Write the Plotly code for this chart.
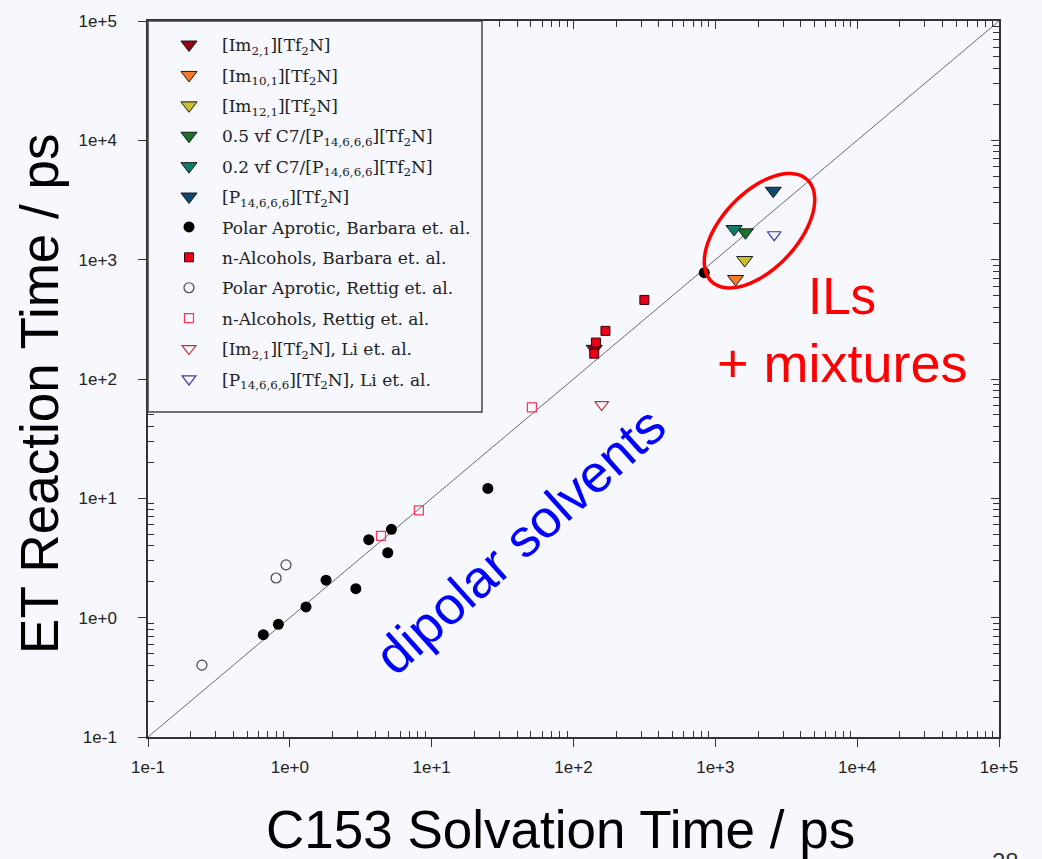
import numpy as np
import plotly.graph_objects as go

# ---- data (ps) ----
im21_x, im21_y = [140], [179]
im101_x, im101_y = [1390], [689]
im121_x, im121_y = [1611], [993]
vf05_x, vf05_y = [1630], [1695]
vf02_x, vf02_y = [1355], [1807]
p14_x, p14_y = [2560], [3780]

aprotic_barbara_x = [0.65, 0.83, 1.30, 1.80, 2.92, 3.6, 4.9, 5.2, 24.9, 836]
aprotic_barbara_y = [0.72, 0.88, 1.23, 2.06, 1.75, 4.5, 3.5, 5.5, 12.1, 778]

alcohol_barbara_x = [316, 168, 144, 140]
alcohol_barbara_y = [460, 253, 202, 163]

aprotic_rettig_x = [0.24, 0.80, 0.94]
aprotic_rettig_y = [0.40, 2.15, 2.77]

alcohol_rettig_x = [4.39, 8.13, 50.9]
alcohol_rettig_y = [4.84, 7.94, 57.8]

im21_li_x, im21_li_y = [158], [61]
p14_li_x, p14_li_y = [2600], [1618]

diag = [0.1, 1e5]

major_vals = [10.0 ** e for e in range(-1, 6)]
major_text = ["1e-1", "1e+0", "1e+1", "1e+2", "1e+3", "1e+4", "1e+5"]
minor_vals = [m * 10.0 ** e for e in range(-1, 5) for m in range(2, 10)]

# ---- layout geometry (pixels) ----
W, H = 1042, 859
L, R, T, B = 148, 999, 19, 737
PW, PH = R - L, B - T


def px(x):
    return (x - L) / PW


def py(y):
    return (B - y) / PH


BG = "#F7F8FE"
AX = "#333333"
OUT = "#1a1a1a"

fig = go.Figure()

fig.add_trace(go.Scatter(x=diag, y=diag, mode="lines",
                         line=dict(color="#6a6a6a", width=1),
                         showlegend=False, hoverinfo="skip"))

group_id = [0]


def add(name, x, y, marker):
    group_id[0] += 1
    fig.add_trace(go.Scatter(x=x, y=y, mode="markers", name=name,
                             legendgroup=f"g{group_id[0]}", marker=marker))


def tri(name, x, y, color):
    add(name, x, y, dict(symbol="triangle-down", size=14, color=color,
                         line=dict(color=OUT, width=1)))


tri("[Im<sub>2,1</sub>][Tf<sub>2</sub>N]", im21_x, im21_y, "#8E0A16")
tri("[Im<sub>10,1</sub>][Tf<sub>2</sub>N]", im101_x, im101_y, "#F47A2C")
tri("[Im<sub>12,1</sub>][Tf<sub>2</sub>N]", im121_x, im121_y, "#C9BE30")
tri("0.5 vf C7/[P<sub>14,6,6,6</sub>][Tf<sub>2</sub>N]", vf05_x, vf05_y, "#18722A")
tri("0.2 vf C7/[P<sub>14,6,6,6</sub>][Tf<sub>2</sub>N]", vf02_x, vf02_y, "#127C6C")
tri("[P<sub>14,6,6,6</sub>][Tf<sub>2</sub>N]", p14_x, p14_y, "#0D4A6B")

add("Polar Aprotic, Barbara et. al.", aprotic_barbara_x, aprotic_barbara_y,
    dict(symbol="circle", size=11, color="#000000"))
add("n-Alcohols, Barbara et. al.", alcohol_barbara_x, alcohol_barbara_y,
    dict(symbol="square", size=9, color="#E8001C",
         line=dict(color="#3a0000", width=1)))
add("Polar Aprotic, Rettig et. al.", aprotic_rettig_x, aprotic_rettig_y,
    dict(symbol="circle-open", size=10, color="#444444", line=dict(width=1.2)))
add("n-Alcohols, Rettig et. al.", alcohol_rettig_x, alcohol_rettig_y,
    dict(symbol="square-open", size=9, color="#FF3355", line=dict(width=1.2)))
add("[Im<sub>2,1</sub>][Tf<sub>2</sub>N], Li et. al.", im21_li_x, im21_li_y,
    dict(symbol="triangle-down-open", size=12, color="#C0303A",
         line=dict(width=1.2)))
add("[P<sub>14,6,6,6</sub>][Tf<sub>2</sub>N], Li et. al.", p14_li_x, p14_li_y,
    dict(symbol="triangle-down-open", size=12, color="#3A3AA8",
         line=dict(width=1.2)))

# invisible trace so the top/right frame axes are drawn
fig.add_trace(go.Scatter(x=diag, y=diag, xaxis="x2", yaxis="y2",
                         mode="markers", marker=dict(opacity=0),
                         showlegend=False, hoverinfo="skip"))

axis_common = dict(type="log", range=[-1, 5], showgrid=False, zeroline=False,
                   showline=True, linecolor=AX, linewidth=1.5)
minor_in = dict(tickmode="array", tickvals=minor_vals, ticks="inside",
                ticklen=6, tickcolor=AX, tickwidth=1)
tick_font = dict(family="Liberation Sans", size=17, color="#222")

fig.update_layout(
    width=W, height=H,
    margin=dict(l=L, r=W - R, t=T, b=H - B),
    paper_bgcolor=BG, plot_bgcolor=BG,
    xaxis=dict(**axis_common, tickmode="array", tickvals=major_vals,
               ticktext=major_text, ticks="outside", ticklen=8,
               tickcolor=AX, tickwidth=1.2, ticklabelstandoff=6,
               tickfont=tick_font, minor=minor_in),
    yaxis=dict(**axis_common, tickmode="array", tickvals=major_vals,
               ticktext=major_text, ticks="outside", ticklen=8,
               tickcolor=AX, tickwidth=1.2, ticklabelstandoff=18,
               tickfont=tick_font, minor=minor_in),
    xaxis2=dict(**axis_common, overlaying="x", side="top",
                showticklabels=False, tickmode="array", tickvals=major_vals,
                ticks="inside", ticklen=8, tickcolor=AX, minor=minor_in),
    yaxis2=dict(**axis_common, overlaying="y", side="right",
                showticklabels=False, tickmode="array", tickvals=major_vals,
                ticks="inside", ticklen=8, tickcolor=AX, minor=minor_in),
    legend=dict(x=px(156), y=py(25), xanchor="left", yanchor="top",
                bgcolor="rgba(0,0,0,0)", borderwidth=0,
                font=dict(family="DejaVu Serif", size=17, color="#222"),
                itemwidth=56, tracegroupgap=5.3, traceorder="grouped"),
    showlegend=True,
)

# legend frame
fig.add_shape(type="rect", xref="paper", yref="paper",
              x0=0, x1=px(482), y0=py(411), y1=1,
              fillcolor=BG, line=dict(color="#444", width=1.5), layer="above")

# ellipse around the ionic liquid points
cx, cy, a, b, th = 759.5, 229.3, 70.0, 38.0, np.deg2rad(47)
t = np.linspace(0, 2 * np.pi, 73)
ex = cx + a * np.cos(t) * np.cos(th) + b * np.sin(t) * np.sin(th)
ey = cy - a * np.cos(t) * np.sin(th) + b * np.sin(t) * np.cos(th)
path = "M " + " L ".join(f"{px(u):.5f},{py(v):.5f}" for u, v in zip(ex, ey)) + " Z"
fig.add_shape(type="path", xref="paper", yref="paper", path=path,
              line=dict(color="#FF0000", width=3.5), layer="above")

big = "Liberation Sans"


def note(text, x, y, size, color, angle=0, **kw):
    fig.add_annotation(text=text, xref="paper", yref="paper", x=px(x), y=py(y),
                       xanchor=kw.get("xanchor", "center"),
                       yanchor=kw.get("yanchor", "middle"),
                       textangle=angle, showarrow=False,
                       font=dict(family=big, size=size, color=color))


note("ILs", 842, 295, 51, "#FF0000")
note("+ mixtures", 842, 362, 54, "#FF0000")
note("dipolar solvents", 520, 540, 53, "#0000FF", angle=-42)
note("C153 Solvation Time / ps", 560, 830, 53, "#000000")
note("ET Reaction Time / ps", 40, 393, 53, "#000000", angle=-90)
note("28", 1005, 846, 24, "#333333", yanchor="top")

fig.write_html("out.html")
